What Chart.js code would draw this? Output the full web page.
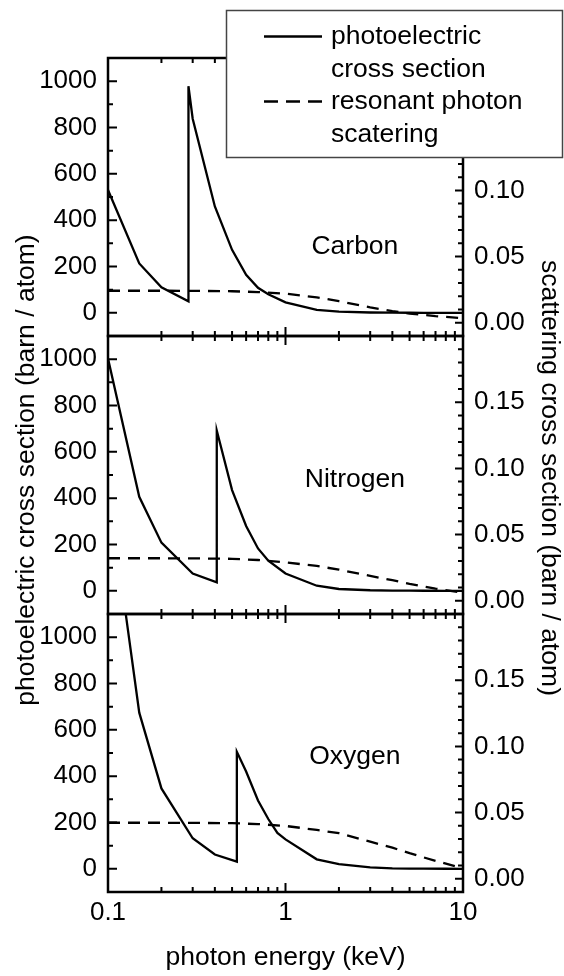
<!DOCTYPE html>
<html>
<head>
<meta charset="utf-8">
<title>Photoelectric and resonant scattering cross sections</title>
<script src="https://cdn.jsdelivr.net/npm/chart.js@4.4.1/dist/chart.umd.min.js"></script>
<style>
  html, body { margin: 0; padding: 0; background: #fff; }
  canvas { display: block; }
</style>
</head>
<body>
<canvas id="chart" width="564" height="976"></canvas>
<script>
// photon energy (keV) and photoelectric cross section (barn / atom)
const carbonEnergy = [0.1, 0.15, 0.2, 0.284, 0.284, 0.3, 0.4, 0.5, 0.6, 0.7, 0.8, 1, 1.5, 2, 3, 4, 5, 6, 8, 10];
const carbonPhoto = [530, 213, 110, 50, 978, 838, 459, 272, 164, 108, 80, 45, 13, 5, 1.5, 0.7, 0.4, 0.2, 0.1, 0.05];

const nitrogenEnergy = [0.1, 0.15, 0.2, 0.3, 0.41, 0.41, 0.5, 0.6, 0.7, 0.8, 1, 1.5, 2, 3, 4, 5, 6, 8, 10];
const nitrogenPhoto = [1003, 406, 208, 75, 37, 692, 435, 280, 183, 130, 75, 22, 8, 2.5, 1, 0.5, 0.3, 0.15, 0.08];

const oxygenEnergy = [0.1, 0.15, 0.2, 0.3, 0.4, 0.532, 0.532, 0.6, 0.7, 0.8, 0.9, 1, 1.5, 2, 3, 4, 5, 6, 8, 10];
const oxygenPhoto = [1660, 674, 347, 132, 62, 31, 505, 420, 295, 215, 155, 127, 41, 20, 6, 2, 1, 0.6, 0.3, 0.15];

// resonant photon scattering (barn / atom), right axis
const scatterEnergy = [0.1, 0.2, 0.3, 0.5, 0.7, 1, 1.5, 2, 3, 4, 5, 7, 10];
const carbonScatter = [0.0242, 0.0242, 0.0241, 0.0238, 0.0232, 0.0220, 0.0192, 0.0163, 0.0116, 0.0088, 0.0070, 0.0050, 0.0034];
const nitrogenScatter = [0.0321, 0.0321, 0.0320, 0.0317, 0.0308, 0.0290, 0.0263, 0.0235, 0.0188, 0.0155, 0.0128, 0.0092, 0.0061];
const oxygenScatter = [0.0423, 0.0423, 0.0422, 0.0420, 0.0413, 0.0399, 0.0369, 0.0344, 0.0280, 0.0235, 0.0193, 0.0135, 0.0079];

const panelNames = ['Carbon', 'Nitrogen', 'Oxygen'];
const labelEnergy = [2.46, 2.46, 2.46];
const labelValue = [285, 478, 485];

// tick values / labels
const xLabels = [0.1, 1, 10];
const xMinorTicks = [0.2, 0.3, 0.4, 0.5, 0.6, 0.7, 0.8, 0.9, 2, 3, 4, 5, 6, 7, 8, 9];
const leftLabels = [0, 200, 400, 600, 800, 1000];
const leftMinorTicks = [-100, 100, 300, 500, 700, 900, 1100];
const rightLabels = [0, 0.05, 0.10, 0.15];
const rightMinorTicks = [-0.01, 0.01, 0.02, 0.03, 0.04, 0.06, 0.07, 0.08, 0.09, 0.11, 0.12, 0.13, 0.14, 0.16, 0.17, 0.18, 0.19];

const legendLines = [['photoelectric', 'cross section'], ['resonant photon', 'scatering']];
const xTitle = 'photon energy (keV)';
const leftTitle = 'photoelectric cross section (barn / atom)';
const rightTitle = 'scattering cross section (barn / atom)';

const leftIds = ['yC', 'yN', 'yO'];
const rightIds = ['rC', 'rN', 'rO'];
const FONT = "'Liberation Sans', Arial, sans-serif";
const DASH = [12, 8];

Chart.defaults.font.family = FONT;
Chart.defaults.color = '#000';

function pts(xs, ys) {
    return xs.map((e, i) => ({ x: e, y: ys[i] }));
}

function solid(xs, ys, axis) {
    return { data: pts(xs, ys), xAxisID: 'x', yAxisID: axis, borderColor: '#000', borderWidth: 2.3,
             pointRadius: 0, tension: 0, fill: false };
}

function dashed(xs, ys, axis) {
    const d = solid(xs, ys, axis);
    d.borderDash = DASH;
    return d;
}

function leftAxis(weight) {
    return {
        type: 'linear', position: 'left', stack: 'left', stackWeight: 1, weight: weight,
        min: -100, max: 1100,
        grid: { display: false, drawTicks: false, tickLength: 0 },
        border: { display: false },
        ticks: { font: { size: 26 }, padding: 11, autoSkip: false, callback: v => String(v) },
        afterBuildTicks: s => { s.ticks = leftLabels.map(v => ({ value: v })); },
        afterFit: s => { s.width = 108; }
    };
}

function rightAxis(weight) {
    return {
        type: 'linear', position: 'right', stack: 'right', stackWeight: 1, weight: weight,
        min: -0.01, max: 0.2,
        grid: { display: false, drawTicks: false, tickLength: 0 },
        border: { display: false },
        ticks: { font: { size: 26 }, padding: 11, autoSkip: false, callback: v => v.toFixed(2) },
        afterBuildTicks: s => { s.ticks = rightLabels.map(v => ({ value: v })); },
        afterFit: s => { s.width = 101; }
    };
}

// frames, inward ticks, panel names, axis titles and the legend box
const decorations = {
    id: 'decorations',
    beforeDatasetDraw(chart, args) {
        const m = args.meta;
        const ctx = chart.ctx;
        ctx.save();
        ctx.beginPath();
        ctx.rect(m.xScale.left, m.yScale.top, m.xScale.right - m.xScale.left, m.yScale.bottom - m.yScale.top);
        ctx.clip();
    },
    afterDatasetDraw(chart) {
        chart.ctx.restore();
    },
    afterDraw(chart) {
        const ctx = chart.ctx;
        const x = chart.scales.x;
        ctx.save();
        ctx.strokeStyle = '#000';
        ctx.fillStyle = '#000';

        leftIds.forEach((id, i) => {
            const yl = chart.scales[id];
            const yr = chart.scales[rightIds[i]];
            const top = yl.top, bot = yl.bottom;

            ctx.lineWidth = 2;
            ctx.beginPath();
            leftLabels.forEach(v => { const p = yl.getPixelForValue(v); ctx.moveTo(x.left, p); ctx.lineTo(x.left + 9, p); });
            leftMinorTicks.forEach(v => { const p = yl.getPixelForValue(v); ctx.moveTo(x.left, p); ctx.lineTo(x.left + 5, p); });
            rightLabels.forEach(v => { const p = yr.getPixelForValue(v); ctx.moveTo(x.right, p); ctx.lineTo(x.right - 8, p); });
            rightMinorTicks.forEach(v => { const p = yr.getPixelForValue(v); ctx.moveTo(x.right, p); ctx.lineTo(x.right - 5, p); });
            xLabels.forEach(v => {
                const p = x.getPixelForValue(v);
                ctx.moveTo(p, top); ctx.lineTo(p, top + 9);
                ctx.moveTo(p, bot); ctx.lineTo(p, bot - 9);
            });
            xMinorTicks.forEach(v => {
                const p = x.getPixelForValue(v);
                ctx.moveTo(p, top); ctx.lineTo(p, top + 5);
                ctx.moveTo(p, bot); ctx.lineTo(p, bot - 5);
            });
            ctx.stroke();

            ctx.lineWidth = 2.5;
            ctx.strokeRect(x.left, top, x.right - x.left, bot - top);

            ctx.font = '26.5px ' + FONT;
            ctx.textAlign = 'center';
            ctx.textBaseline = 'middle';
            ctx.fillText(panelNames[i], x.getPixelForValue(labelEnergy[i]), yl.getPixelForValue(labelValue[i]));
        });

        // axis titles
        ctx.font = '26.5px ' + FONT;
        ctx.textAlign = 'center';
        ctx.textBaseline = 'middle';
        ctx.fillText(xTitle, (x.left + x.right) / 2, 958);

        ctx.save();
        ctx.translate(27, 470);
        ctx.rotate(-Math.PI / 2);
        ctx.fillText(leftTitle, 0, 0);
        ctx.restore();

        ctx.save();
        ctx.translate(549, 478);
        ctx.rotate(Math.PI / 2);
        ctx.fillText(rightTitle, 0, 0);
        ctx.restore();

        // legend
        ctx.fillStyle = '#fff';
        ctx.fillRect(226, 10, 337, 148);
        ctx.strokeStyle = '#444';
        ctx.lineWidth = 1.5;
        ctx.strokeRect(226.5, 10.5, 336, 147);

        ctx.fillStyle = '#000';
        ctx.strokeStyle = '#000';
        ctx.lineWidth = 2.3;
        ctx.textAlign = 'left';
        const rows = [36.5, 70, 101.5, 135];
        legendLines.forEach((lines, k) => {
            const ly = rows[k * 2];
            ctx.setLineDash(k === 0 ? [] : [14, 8]);
            ctx.beginPath();
            ctx.moveTo(264, ly);
            ctx.lineTo(322, ly);
            ctx.stroke();
            lines.forEach((t, j) => ctx.fillText(t, 331, rows[k * 2 + j]));
        });
        ctx.setLineDash([]);
        ctx.restore();
    }
};

new Chart(document.getElementById('chart'), {
    type: 'line',
    data: {
        datasets: [
            solid(carbonEnergy, carbonPhoto, 'yC'),
            dashed(scatterEnergy, carbonScatter, 'rC'),
            solid(nitrogenEnergy, nitrogenPhoto, 'yN'),
            dashed(scatterEnergy, nitrogenScatter, 'rN'),
            solid(oxygenEnergy, oxygenPhoto, 'yO'),
            dashed(scatterEnergy, oxygenScatter, 'rO')
        ]
    },
    options: {
        responsive: false,
        animation: false,
        layout: { padding: { top: 58, left: 0, right: 0, bottom: 0 } },
        plugins: { legend: { display: false }, tooltip: { enabled: false } },
        scales: {
            x: {
                type: 'logarithmic', position: 'bottom', min: 0.1, max: 10,
                grid: { display: false, drawTicks: false, tickLength: 0 },
                border: { display: false },
                ticks: { font: { size: 26 }, padding: 5, maxRotation: 0, autoSkip: false, callback: v => String(v) },
                afterBuildTicks: s => { s.ticks = xLabels.map(v => ({ value: v })); },
                afterFit: s => { s.height = 84; }
            },
            yC: leftAxis(3),
            yN: leftAxis(2),
            yO: leftAxis(1),
            rC: rightAxis(1),
            rN: rightAxis(2),
            rO: rightAxis(3)
        }
    },
    plugins: [decorations]
});
</script>
</body>
</html>
